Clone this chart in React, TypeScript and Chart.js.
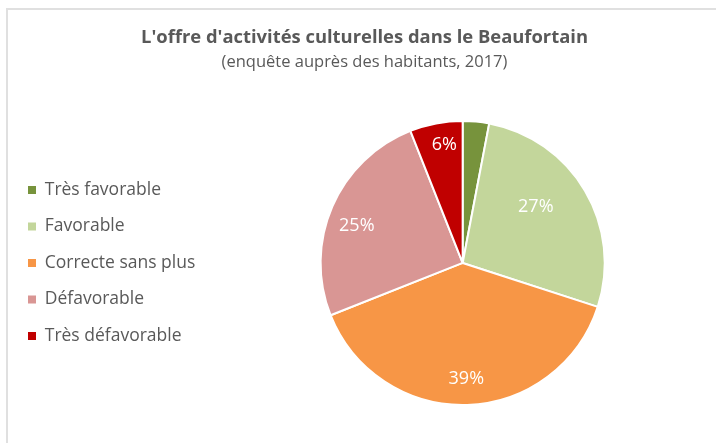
import { useEffect, useRef } from "react";
import { Chart, registerables } from "chart.js";

Chart.register(...registerables);

const categories = [
  "Très favorable",
  "Favorable",
  "Correcte sans plus",
  "Défavorable",
  "Très défavorable",
];
const values = [3, 27, 39, 25, 6];
const valueLabels = ["", "27%", "39%", "25%", "6%"];
const colors = ["#77933C", "#C3D69B", "#F79646", "#D99694", "#C00000"];

const titleText = "L'offre d'activités culturelles dans le Beaufortain";
const subtitleText = "(enquête auprès des habitants, 2017)";

// label placement styling (fraction of radius, angle shift in degrees)
const labelRadius = [0.8, 0.65, 0.82, 0.79, 0.84];
const labelShift = [0, -7, 0, -4, 2];

const FONT = "'Open Sans', 'Noto Sans', sans-serif";

const sliceLabels = {
  id: "sliceLabels",
  afterDatasetsDraw(chart: any) {
    const ctx = chart.ctx;
    const meta = chart.getDatasetMeta(0);
    ctx.save();
    ctx.font = `18px ${FONT}`;
    ctx.fillStyle = "#ffffff";
    ctx.textAlign = "center";
    ctx.textBaseline = "middle";
    meta.data.forEach((arc: any, i: number) => {
      const t = valueLabels[i];
      if (!t) return;
      const p = arc.getProps(["x", "y", "startAngle", "endAngle", "outerRadius"], true);
      const a = (p.startAngle + p.endAngle) / 2 + (labelShift[i] * Math.PI) / 180;
      const r = p.outerRadius * labelRadius[i];
      ctx.fillText(t, p.x + Math.cos(a) * r, p.y + Math.sin(a) * r);
    });
    ctx.restore();
  },
};

export default function App() {
  const ref = useRef<HTMLCanvasElement | null>(null);

  useEffect(() => {
    if (!ref.current) return;
    const chart = new Chart(ref.current, {
      type: "pie",
      data: {
        labels: categories,
        datasets: [
          {
            data: values,
            backgroundColor: colors,
            borderColor: "#ffffff",
            borderWidth: 2,
          },
        ],
      },
      options: {
        responsive: false,
        animation: false,
        layout: { padding: { left: 9, top: 16, right: 0, bottom: 37 } },
        plugins: {
          title: {
            display: true,
            text: titleText,
            color: "#595959",
            font: { family: FONT, size: 18.4, weight: "bold" },
            padding: { top: 11, bottom: 0 },
          },
          subtitle: {
            display: true,
            text: subtitleText,
            color: "#595959",
            font: { family: FONT, size: 16.5 },
            padding: { top: 3, bottom: 48 },
          },
          legend: {
            position: "left",
            align: "center",
            fullSize: false,
            labels: {
              boxWidth: 8,
              boxHeight: 8,
              padding: 19,
              color: "#595959",
              font: { family: FONT, size: 17.5 },
              generateLabels: (c: any) => {
                const base = Chart.overrides.pie.plugins.legend.labels.generateLabels(c);
                return base.map((l: any) => ({ ...l, lineWidth: 0, strokeStyle: "transparent" }));
              },
            },
          },
          tooltip: { enabled: false },
        },
      },
      plugins: [sliceLabels],
    });
    return () => chart.destroy();
  }, []);

  return (
    <div style={{ position: "fixed", left: 0, top: 0, width: 716, height: 443, overflow: "hidden", background: "#fff" }}>
      <canvas ref={ref} width={720} height={443} style={{ position: "absolute", left: 0, top: 0, display: "block" }} />
      <div
        style={{
          position: "absolute",
          left: 6,
          top: 8,
          width: 760,
          height: 480,
          borderTop: "2px solid #e0e0e0",
          borderLeft: "2px solid #e0e0e0",
          pointerEvents: "none",
        }}
      />
    </div>
  );
}
